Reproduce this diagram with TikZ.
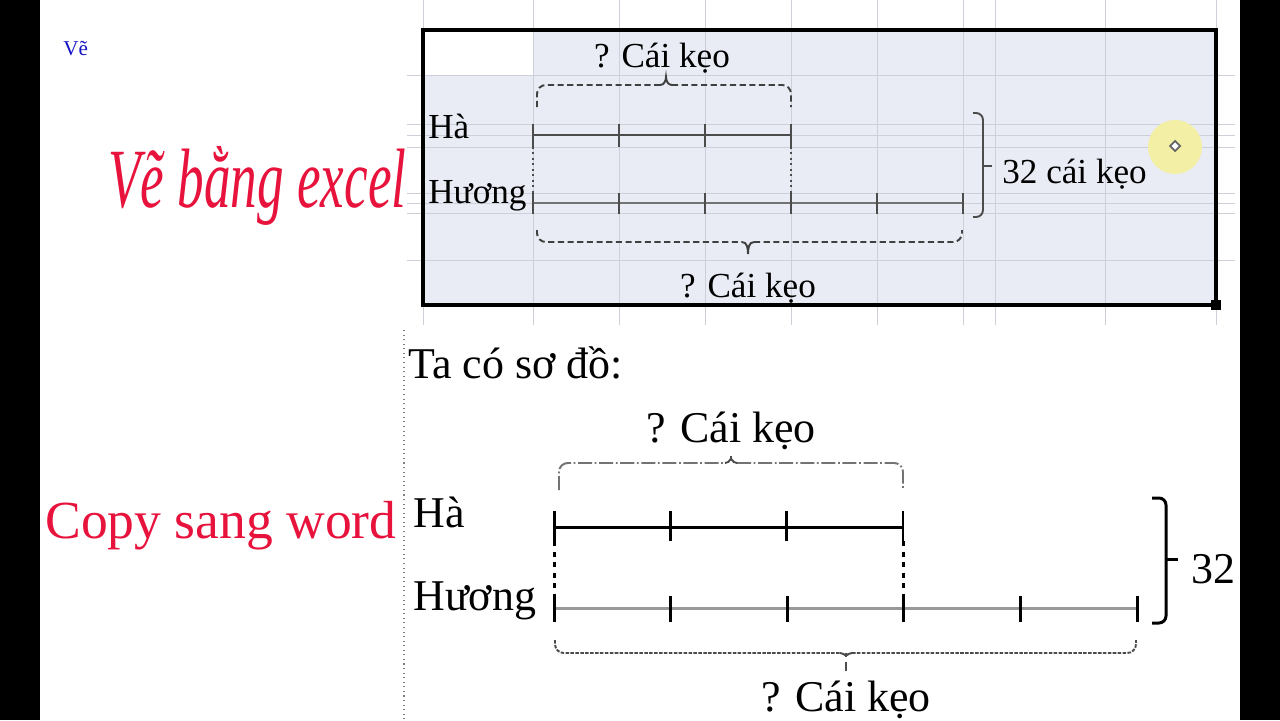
\documentclass[tikz,border=0pt]{standalone}
\usepackage{fontspec}
\setmainfont{Liberation Serif}
\usepackage{xcolor}
\definecolor{TitleRed}{HTML}{E8133C}
\definecolor{NoteBlue}{HTML}{1414C4}
\definecolor{SheetFill}{HTML}{E9ECF5}
\definecolor{GridLine}{HTML}{CDD0D8}
\definecolor{CursorYellow}{HTML}{F3EFA4}
\usepackage{graphicx}
\usepackage{tikz}
\usetikzlibrary{calc,positioning}

\begin{document}
\begin{tikzpicture}[
        x=0.02cm, y=-0.02cm,
        sheetgrid/.style={draw=GridLine, line width=0.5pt},
        sheetbar/.style={draw=black!70, line width=1.1pt},
        sheetbrace/.style={draw=black!75, line width=1.1pt, dash pattern=on 3.5pt off 2pt, rounded corners=5pt},
        wordbar/.style={draw=black, line width=1.7pt},
        wordbrace/.style={draw=black!55, line width=1.1pt, rounded corners=5pt},
        sheettext/.style={inner sep=0pt, anchor=base, font=\fontsize{20}{24}\selectfont},
        wordtext/.style={inner sep=0pt, anchor=base, font=\fontsize{25}{30}\selectfont},
        bigtitle/.style={inner sep=0pt, anchor=base west, text=TitleRed}
    ]
        \useasboundingbox (0,0) rectangle (1280,720);
        \clip (0,0) rectangle (1280,720);
        \fill[white] (0,0) rectangle (1280,720);

        % Side bars
        \fill[black] (0,0) rectangle (40,720);
        \fill[black] (1240,0) rectangle (1280,720);

        % Titles
        \node[anchor=base west, inner sep=0pt, text=NoteBlue, font=\fontsize{12}{14}\selectfont] (note) at (63,55) {Vẽ};
        \node[bigtitle, font=\fontsize{48}{56}\selectfont] (excelTitle) at (108,207) {\scalebox{0.63}[1]{\itshape Vẽ bằng excel}};
        \node[bigtitle, font=\fontsize{30.5}{36}\selectfont] (wordTitle) at (45,538) {Copy sang word};

        % Excel sheet
        \fill[SheetFill] (423,30) rectangle (1216,305);
        \fill[white] (423,30) rectangle (533,75);
        \foreach \gx in {423,533,619,705,791,877,963,995,1105,1216}
            \draw[sheetgrid] (\gx,0) -- (\gx,325);
        \foreach \gy in {75,124,135,147,193,203,213,260}
            \draw[sheetgrid] (407,\gy) -- (1235,\gy);
        \draw[line width=2.3pt] (423,30) rectangle (1216,305);
        \fill (1211,300) rectangle (1221,310);

        % Cursor
        \fill[CursorYellow] (1175,147) circle (27);
        \draw[black!60, line width=1pt, fill=white] (1175,141) -- (1180,146) -- (1175,151) -- (1170,146) -- cycle;

        % Sheet bars
        \coordinate (sHa0) at (533,135);
        \coordinate (sHa3) at (791,135);
        \coordinate (sHuong0) at (533,203);
        \coordinate (sHuong5) at (963,203);
        \draw[sheetbar, line width=1.3pt] (sHa0) -- (sHa3);
        \foreach \i in {0,...,3}
            \draw[sheetbar] ($(sHa0)+(86*\i,-11)$) -- ++(0,23);
        \draw[sheetbar, draw=black!55, line width=1.3pt] (sHuong0) -- (sHuong5);
        \foreach \i in {0,...,5}
            \draw[sheetbar] ($(sHuong0)+(86*\i,-10)$) -- ++(0,21);
        \draw[sheetbar, dotted] (533,147) -- (533,193);
        \draw[sheetbar, dotted] (791,147) -- (791,193);

        % Sheet braces
        \draw[sheetbrace] (537,107) -- (537,85) -- (660,85);
        \draw[sheetbrace] (672,85) -- (791,85) -- (791,107);
        \draw[sheetbar, draw=black!75] (660,85) to[out=0,in=-90] (666,77) to[out=-90,in=180] (672,85);
        \draw[sheetbrace] (537,230) -- (537,242) -- (742,242);
        \draw[sheetbrace] (754,242) -- (962,242) -- (962,230);
        \draw[sheetbar, draw=black!75] (742,242) to[out=0,in=90] (748,254) to[out=90,in=180] (754,242);
        \draw[sheetbar, rounded corners=4pt] (973,113) -- (983,113) -- (983,217) -- (973,217);
        \draw[sheetbar] (983,166) -- (992,166);

        % Sheet labels
        \node[sheettext] (sheetTop) at (662,67) {? Cái kẹo};
        \node[sheettext, anchor=base west] (sheetHa) at (428,138) {Hà};
        \node[sheettext, anchor=base west] (sheetHuong) at (428,203) {Hương};
        \node[sheettext] (sheetBottom) at (748,297) {? Cái kẹo};
        \node[sheettext, anchor=base west] (sheetTotal) at (1002,183) {32 cái kẹo};

        % Word page
        \draw[black!50, dotted, line width=0.6pt] (404,330) -- (404,720);
        \node[wordtext, anchor=base west] (wordIntro) at (408,378) {Ta có sơ đồ:};

        \coordinate (wHa0) at (554,527);
        \coordinate (wHa3) at (903,527);
        \coordinate (wHuong0) at (554,608);
        \coordinate (wHuong5) at (1137,608);
        \draw[wordbar] (wHa0) -- (wHa3);
        \foreach \i in {0,...,3}
            \draw[wordbar] ($(wHa0)+(116.33*\i,-16)$) -- ++(0,30);
        \draw[wordbar, draw=black!40] (wHuong0) -- (wHuong5);
        \foreach \i in {0,...,5}
            \draw[wordbar] ($(wHuong0)+(116.6*\i,-12)$) -- ++(0,26);
        \draw[wordbar, dash pattern=on 3pt off 3pt] (554,541) -- (554,596);
        \draw[wordbar, dash pattern=on 3pt off 3pt] (903,541) -- (903,596);

        % Word braces
        \draw[wordbrace, dash pattern=on 8pt off 1.5pt on 1pt off 1.5pt] (559,490) -- (559,463) -- (725,463);
        \draw[wordbrace, dash pattern=on 8pt off 1.5pt on 1pt off 1.5pt] (737,463) -- (903,463) -- (903,490);
        \draw[wordbrace, draw=black!70] (725,463) to[out=0,in=-90] (731,451) to[out=-90,in=180] (737,463);
        \draw[wordbrace, draw=black!70, dash pattern=on 2pt off 0.8pt] (555,640) -- (555,653) -- (840,653);
        \draw[wordbrace, draw=black!70, dash pattern=on 2pt off 0.8pt] (852,653) -- (1136,653) -- (1136,640);
        \draw[wordbrace, draw=black!70] (840,653) to[out=0,in=90] (846,662) to[out=90,in=180] (852,653);
        \draw[wordbrace, draw=black!70] (846,662) -- (846,671);
        \draw[wordbar, rounded corners=4pt] (1152,498) -- (1166,498) -- (1166,623) -- (1152,623);
        \draw[wordbar] (1166,559) -- (1178,559);

        % Word labels
        \node[wordtext] (wordTop) at (731,442) {? Cái kẹo};
        \node[wordtext, anchor=base west] (wordHa) at (413,527) {Hà};
        \node[wordtext, anchor=base west] (wordHuong) at (413,610) {Hương};
        \node[wordtext] (wordBottom) at (846,711) {? Cái kẹo};
        \node[wordtext, anchor=base west] (wordTotal) at (1191,583) {32};
    \end{tikzpicture}
\end{document}
